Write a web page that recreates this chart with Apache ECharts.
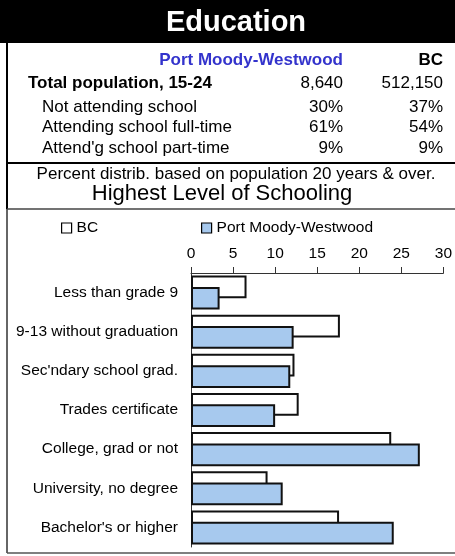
<!DOCTYPE html>
<html>
<head>
<meta charset="utf-8">
<script src="https://cdn.jsdelivr.net/npm/echarts@6/dist/echarts.min.js"></script>
<style>
  html, body { margin: 0; padding: 0; background: #fff; }
  #chart { width: 455px; height: 556px; }
</style>
</head>
<body>
<div id="chart"></div>
<script>
// summary table
const areaName = "Port Moody-Westwood";
const rowLabels = ["Not attending school", "Attending school full-time", "Attend'g school part-time"];
const areaShares = ["30%", "61%", "9%"];
const bcShares = ["37%", "54%", "9%"];
const totalArea = "8,640";
const totalBC = "512,150";

// chart data
const categories = [
  "Less than grade 9",
  "9-13 without graduation",
  "Sec'ndary school grad.",
  "Trades certificate",
  "College, grad or not",
  "University, no degree",
  "Bachelor's or higher",
];
const bcValues = [6.6, 17.7, 12.3, 12.8, 23.8, 9.1, 17.6];
const areaValues = [3.4, 12.2, 11.8, 10.0, 27.2, 10.9, 24.1];
const xTicks = [0, 5, 10, 15, 20, 25, 30];

const FONT = "'Liberation Sans', Arial, sans-serif";
const BLUE = "#a7c9ee";

const chart = echarts.init(document.getElementById("chart"));

// header texts
const graphics = [
  { type: "rect", shape: { x: 0, y: 0, width: 455, height: 43 }, style: { fill: "#000" } },
  { type: "text", x: 236, y: 23, style: { text: "Education", fill: "#fff", font: "bold 29px " + FONT, align: "center", verticalAlign: "middle" } },
  { type: "text", x: 343, y: 60, style: { text: areaName, fill: "#3333cc", font: "bold 17px " + FONT, align: "right", verticalAlign: "middle" } },
  { type: "text", x: 443, y: 60, style: { text: "BC", fill: "#000", font: "bold 17px " + FONT, align: "right", verticalAlign: "middle" } },
  { type: "text", x: 28, y: 83, style: { text: "Total population, 15-24", fill: "#000", font: "bold 17px " + FONT, verticalAlign: "middle" } },
  { type: "text", x: 343, y: 83, style: { text: totalArea, fill: "#000", font: "17px " + FONT, align: "right", verticalAlign: "middle" } },
  { type: "text", x: 443, y: 83, style: { text: totalBC, fill: "#000", font: "17px " + FONT, align: "right", verticalAlign: "middle" } },
  { type: "text", x: 236, y: 174, style: { text: "Percent distrib. based on population 20 years & over.", fill: "#000", font: "17px " + FONT, align: "center", verticalAlign: "middle" } },
  { type: "text", x: 222, y: 194, style: { text: "Highest Level of Schooling", fill: "#000", font: "22px " + FONT, align: "center", verticalAlign: "middle" } },
  // borders
  { type: "line", shape: { x1: 7, y1: 43, x2: 7, y2: 209 }, style: { stroke: "#000", lineWidth: 2 } },
  { type: "line", shape: { x1: 7, y1: 209, x2: 7, y2: 553 }, style: { stroke: "#333", lineWidth: 1.5 } },
  { type: "line", shape: { x1: 6, y1: 163, x2: 455, y2: 163 }, style: { stroke: "#000", lineWidth: 2 } },
  { type: "line", shape: { x1: 7, y1: 209, x2: 455, y2: 209 }, style: { stroke: "#444", lineWidth: 1.5 } },
  { type: "line", shape: { x1: 7, y1: 553, x2: 455, y2: 553 }, style: { stroke: "#555", lineWidth: 1.5 } },
];
rowLabels.forEach((label, i) => {
  const y = 107 + i * 20.5;
  graphics.push(
    { type: "text", x: 42, y: y, style: { text: label, fill: "#000", font: "17px " + FONT, verticalAlign: "middle" } },
    { type: "text", x: 343, y: y, style: { text: areaShares[i], fill: "#000", font: "17px " + FONT, align: "right", verticalAlign: "middle" } },
    { type: "text", x: 443, y: y, style: { text: bcShares[i], fill: "#000", font: "17px " + FONT, align: "right", verticalAlign: "middle" } }
  );
});

const legendText = { color: "#000", fontSize: 15.5, fontFamily: FONT };

chart.setOption({
  animation: false,
  textStyle: { fontFamily: FONT },
  graphic: graphics,
  legend: [
    {
      data: ["BC"], left: 61, top: 220, icon: "rect", itemWidth: 10, itemHeight: 10, itemGap: 4,
      itemStyle: { borderWidth: 1.2, borderColor: "#000" }, textStyle: legendText, padding: 0,
    },
    {
      data: [areaName], left: 201, top: 220, icon: "rect", itemWidth: 10, itemHeight: 10,
      itemStyle: { borderWidth: 1.2, borderColor: "#000" }, textStyle: legendText, padding: 0,
    },
  ],
  grid: { left: 191, right: 10, top: 273, bottom: 9 },
  xAxis: {
    type: "value",
    position: "top",
    min: xTicks[0],
    max: xTicks[xTicks.length - 1],
    interval: 5,
    splitLine: { show: false },
    axisLine: { show: true, lineStyle: { color: "#333", width: 1 } },
    axisTick: { show: true, length: 6, lineStyle: { color: "#333" } },
    axisLabel: { color: "#000", fontSize: 15.5, margin: 11 },
  },
  yAxis: {
    type: "category",
    inverse: true,
    data: categories,
    axisLine: { show: true, lineStyle: { color: "#333", width: 1 } },
    axisTick: { show: false },
    axisLabel: { color: "#000", fontSize: 15.5, margin: 13 },
  },
  series: [
    {
      name: "BC",
      type: "bar",
      data: bcValues,
      barGap: "-50%",
      barCategoryGap: "13%",
      itemStyle: { color: "#fff", borderColor: "#111", borderWidth: 2 },
    },
    {
      name: areaName,
      type: "bar",
      data: areaValues,
      barGap: "-50%",
      barCategoryGap: "13%",
      itemStyle: { color: BLUE, borderColor: "#111", borderWidth: 2 },
    },
  ],
});
</script>
</body>
</html>
